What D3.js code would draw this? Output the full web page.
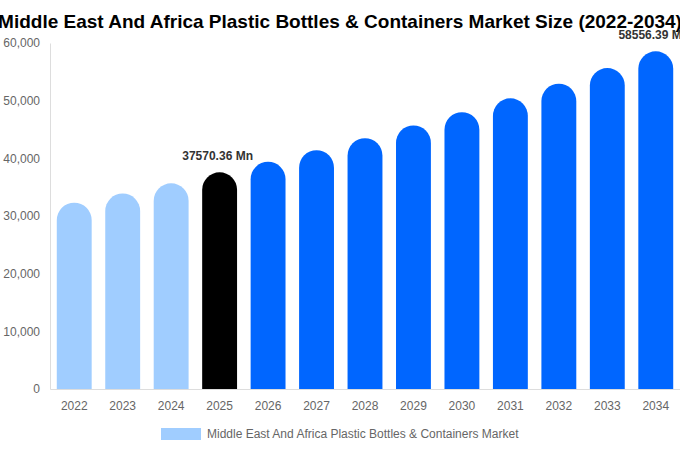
<!DOCTYPE html>
<html>
<head>
<meta charset="utf-8">
<script src="https://cdn.jsdelivr.net/npm/d3@7"></script>
<style>
  body { margin: 0; background: #fff; }
  svg { display: block; font-family: "Liberation Sans", Arial, sans-serif; }
</style>
</head>
<body>
<svg id="chart" width="680" height="450"></svg>
<script>
var years = ["2022", "2023", "2024", "2025", "2026", "2027", "2028", "2029", "2030", "2031", "2032", "2033", "2034"];
var values = [32300, 33900, 35670, 37570.36, 39400, 41400, 43500, 45700, 48000, 50400, 52950, 55650, 58556.39];
var yTicks = [0, 10000, 20000, 30000, 40000, 50000, 60000];
var labelled = ["2025", "2034"];
var legendText = "Middle East And Africa Plastic Bottles & Containers Market";

var margin = { top: 43, right: 0, bottom: 61, left: 50 };
var width = 680 - margin.left - margin.right;
var height = 450 - margin.top - margin.bottom;

var svg = d3.select("#chart");

svg.append("text")
    .attr("x", 340)
    .attr("y", 28)
    .attr("text-anchor", "middle")
    .attr("font-size", 19)
    .attr("font-weight", "bold")
    .attr("fill", "#000")
    .text("Middle East And Africa Plastic Bottles & Containers Market Size (2022-2034)");

var g = svg.append("g")
    .attr("transform", "translate(" + margin.left + "," + margin.top + ")");

var x = d3.scaleBand()
    .domain(years)
    .range([0, width])
    .paddingInner(0.28)
    .paddingOuter(0.14);

var y = d3.scaleLinear()
    .domain([0, 60000])
    .range([height, 0]);

function colour(yr) {
    if (+yr < 2025) return "#a0cdff";
    if (+yr === 2025) return "#000000";
    return "#0066ff";
}

// axes
var yAxis = g.append("g")
    .call(d3.axisLeft(y).tickValues(yTicks).tickSize(0).tickPadding(10).tickFormat(d3.format(",")));
yAxis.select(".domain").attr("stroke", "#ddd");
yAxis.selectAll("text").attr("fill", "#666").attr("font-size", 12);

var xAxis = g.append("g")
    .attr("transform", "translate(0," + height + ")")
    .call(d3.axisBottom(x).tickSize(0).tickPadding(12));
xAxis.select(".domain").attr("stroke", "#ddd");
xAxis.selectAll("text").attr("fill", "#666").attr("font-size", 12);

// bars with rounded tops
function barPath(d, i) {
    var bx = x(years[i]);
    var bw = x.bandwidth();
    var top = y(d);
    var bottom = y(0);
    var r = Math.min(bw / 2, bottom - top);
    return "M" + bx + "," + bottom +
        "L" + bx + "," + (top + r) +
        "A" + r + "," + r + " 0 0 1 " + (bx + bw) + "," + (top + r) +
        "L" + (bx + bw) + "," + bottom + "Z";
}

g.selectAll(".bar")
    .data(values)
    .enter().append("path")
    .attr("class", "bar")
    .attr("d", barPath)
    .attr("fill", function(d, i) { return colour(years[i]); });

g.selectAll(".val")
    .data(values.filter(function(d, i) { return labelled.indexOf(years[i]) >= 0; }))
    .enter().append("text")
    .attr("class", "val")
    .attr("x", function(d) { return x(years[values.indexOf(d)]) + x.bandwidth() / 2 - 2; })
    .attr("y", function(d) { return y(d) - 12; })
    .attr("text-anchor", "middle")
    .attr("font-size", 12)
    .attr("font-weight", "bold")
    .attr("fill", "#333")
    .text(function(d) { return d.toFixed(2) + " Mn"; });

// legend
svg.append("rect")
    .attr("x", 161)
    .attr("y", 428)
    .attr("width", 40)
    .attr("height", 12)
    .attr("fill", "#a0cdff");

svg.append("text")
    .attr("x", 207)
    .attr("y", 438)
    .attr("font-size", 12)
    .attr("fill", "#666")
    .text(legendText);
</script>
</body>
</html>
